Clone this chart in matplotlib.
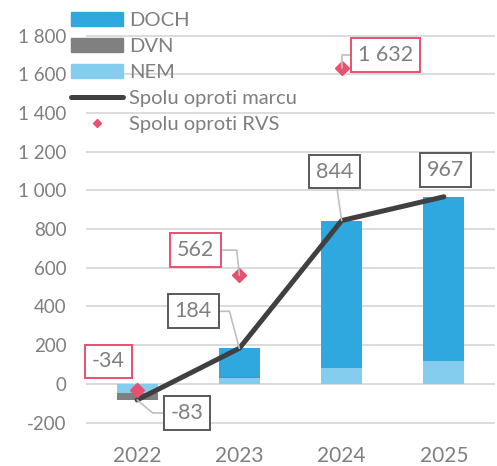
import numpy as np
import matplotlib
matplotlib.use('Agg')
import matplotlib.pyplot as plt
from matplotlib.patches import Patch
from matplotlib.lines import Line2D

# data
years = ['2022', '2023', '2024', '2025']
nem = [-45, 30, 81, 120]
dvn = [-38, 5, 0, 0]
doch = [0, 149, 763, 847]
spolu_marec = [-83, 184, 844, 967]
spolu_rvs = [-34, 562, 1632, None]
y_ticks = [-200, 0, 200, 400, 600, 800, 1000, 1200, 1400, 1600, 1800]

# colours
c_doch = '#2EA8DF'
c_dvn = '#808080'
c_nem = '#85CDEE'
c_line = '#404040'
c_rvs = '#E9506F'
c_text = '#7F7F7F'
c_grid = '#D9D9D9'

plt.rcParams['font.family'] = ['Lato', 'DejaVu Sans']
plt.rcParams['font.size'] = 13

W, H = 497, 466
fig = plt.figure(figsize=(W / 100, H / 100), dpi=100)
ax = fig.add_axes([86 / W, 26 / H, (495 - 86) / W, (466 - 26) / H])

x = np.arange(len(years))
width = 0.4

# stack positives upward, negatives downward (series order NEM, DVN, DOCH)
pos_bottom = np.zeros(len(years))
neg_bottom = np.zeros(len(years))
for vals, col in [(nem, c_nem), (dvn, c_dvn), (doch, c_doch)]:
    vals = np.array(vals, dtype=float)
    bottom = np.where(vals >= 0, pos_bottom, neg_bottom)
    ax.bar(x, vals, width, bottom=bottom, color=col, zorder=2)
    pos_bottom += np.where(vals >= 0, vals, 0)
    neg_bottom += np.where(vals < 0, vals, 0)

ax.plot(x, spolu_marec, color=c_line, lw=3.6, solid_capstyle='round',
        solid_joinstyle='miter', zorder=3)

rvs_x = [i for i, v in enumerate(spolu_rvs) if v is not None]
rvs_y = [v for v in spolu_rvs if v is not None]
ax.plot(rvs_x, rvs_y, 'D', color=c_rvs, markersize=7, zorder=4)


def fmt(v):
    return '{:,}'.format(v).replace(',', ' ')


def label(xi, yi, dx, dy, edge, angleB=None):
    if angleB is None:
        arrow = None
    elif angleB == 'straight':
        arrow = dict(arrowstyle='-', color='#BFBFBF', lw=1.2, shrinkA=0, shrinkB=0)
    else:
        arrow = dict(arrowstyle='-', color='#BFBFBF', lw=1.2, shrinkA=0, shrinkB=0,
                     connectionstyle='angle,angleA=0,angleB=%d,rad=0' % angleB)
    ax.annotate(fmt(yi), xy=(xi, yi), xytext=(dx, dy), textcoords='offset pixels',
                ha='center', va='center', color=c_text, fontsize=15.5, zorder=5,
                bbox=dict(boxstyle='square,pad=0.32', fc='white', ec=edge, lw=1.4),
                arrowprops=arrow)


# labels for the line
label(0, spolu_marec[0], 50, -13, '#595959', -40)
label(1, spolu_marec[1], -46, 37, '#595959', 105)
label(2, spolu_marec[2], -7, 49, '#595959', 'straight')
label(3, spolu_marec[3], 2, 27, '#595959')

# labels for RVS points
label(0, spolu_rvs[0], -29, 29, c_rvs)
label(1, spolu_rvs[1], -44, 25, c_rvs, 96)
label(2, spolu_rvs[2], 44, 13, c_rvs, 90)

ax.set_xlim(-0.5, 3.5)
ax.set_ylim(-290, 1984)
ax.set_xticks(x)
ax.set_xticklabels(years)
ax.set_yticks(y_ticks)
ax.set_yticklabels([fmt(t) for t in y_ticks])
ax.tick_params(axis='both', length=0, colors=c_text)
ax.tick_params(axis='y', pad=14, labelsize=13.5)
ax.tick_params(axis='x', pad=4, labelsize=15)
ax.grid(axis='y', color=c_grid, lw=1.3, zorder=0)
ax.set_axisbelow(True)
for s in ax.spines.values():
    s.set_visible(False)

handles = [
    Patch(color=c_doch, label='DOCH'),
    Patch(color=c_dvn, label='DVN'),
    Patch(color=c_nem, label='NEM'),
    Line2D([], [], color=c_line, lw=3.6, solid_capstyle='round', label='Spolu oproti marcu'),
    Line2D([], [], color=c_rvs, marker='D', markersize=4.5, lw=0, label='Spolu oproti RVS'),
]
leg = fig.legend(handles=handles, loc='upper left', bbox_to_anchor=(71 / W, 1 - 12 / H),
                 frameon=False, fontsize=14.5, handlelength=2.6, handletextpad=0.3,
                 labelspacing=0.44, borderpad=0, borderaxespad=0, labelcolor=c_text)
leg.set_zorder(10)

fig.savefig('out.png', dpi=100)
